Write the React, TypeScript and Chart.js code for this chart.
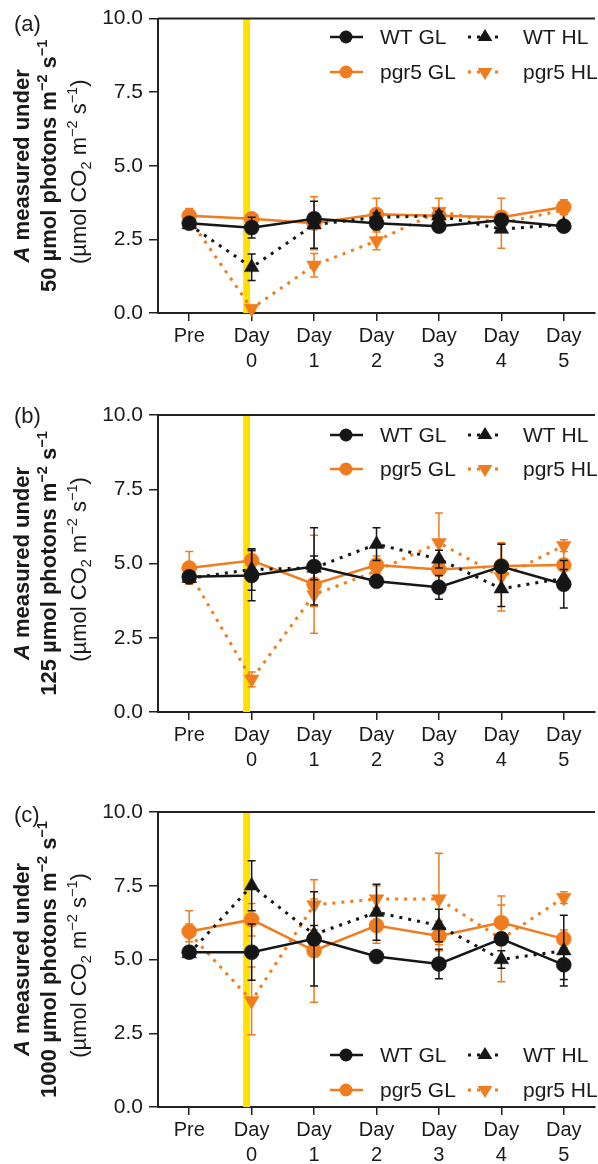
import React, { useEffect, useRef } from 'react';
import { Chart, registerables } from 'chart.js';

Chart.register(...registerables);

const FONT = "'Liberation Sans', Arial, Helvetica, sans-serif";
const BLACK = '#161616';
const ORANGE = '#ef7c1e';
const YELLOW = '#ffe000';
const AXIS = '#222222';

// ---------- data ----------
const categories = [['Pre'], ['Day', '0'], ['Day', '1'], ['Day', '2'], ['Day', '3'], ['Day', '4'], ['Day', '5']];
const yTickValues = [0, 2.5, 5, 7.5, 10];
const seriesNames = ['WT GL', 'WT HL', 'pgr5 GL', 'pgr5 HL'];
const panelLabels = ['(a)', '(b)', '(c)'];
const lightLevels = ['50', '125', '1000'];
const bandStart = 0.865; // high-light shift marker (category index units)
const bandEnd = 0.975;

// Panel (a): 50 µmol photons
const aWtGL = [3.05, 2.9, 3.2, 3.05, 2.95, 3.15, 2.95];
const aWtGLErr = [0.1, 0.35, 0.15, 0.1, 0.1, 0.1, 0.15];
const aWtHL = [3.0, 1.55, 3.0, 3.25, 3.3, 2.85, 3.0];
const aWtHLErr = [0.1, 0.45, 0.8, 0.15, 0.15, 0.1, 0.1];
const aPgGL = [3.3, 3.2, 3.05, 3.35, 3.3, 3.25, 3.6];
const aPgGLErr = [0.25, 0.1, 0.9, 0.55, 0.15, 0.1, 0.25];
const aPgHL = [3.2, 0.15, 1.62, 2.45, 3.45, 3.05, 3.5];
const aPgHLErr = [0.1, 0.1, 0.4, 0.3, 0.45, 0.85, 0.15];

// Panel (b): 125 µmol photons
const bWtGL = [4.55, 4.6, 4.9, 4.4, 4.2, 4.9, 4.3];
const bWtGLErr = [0.1, 0.85, 1.3, 0.15, 0.4, 0.75, 0.8];
const bWtHL = [4.5, 4.8, 4.85, 5.65, 5.15, 4.15, 4.5];
const bWtHLErr = [0.1, 0.7, 0.4, 0.55, 0.3, 0.6, 0.3];
const bPgGL = [4.85, 5.1, 4.3, 4.95, 4.8, 4.92, 4.95];
const bPgGLErr = [0.55, 0.3, 1.65, 0.3, 0.2, 0.75, 0.6];
const bPgHL = [4.7, 1.1, 3.95, 4.75, 5.7, 4.55, 5.6];
const bPgHLErr = [0.2, 0.25, 0.4, 0.3, 1.0, 1.15, 0.2];

// Panel (c): 1000 µmol photons
const cWtGL = [5.25, 5.25, 5.7, 5.1, 4.85, 5.7, 4.82];
const cWtGLErr = [0.1, 0.95, 1.6, 0.15, 0.5, 0.2, 0.5];
const cWtHL = [5.2, 7.5, 5.85, 6.6, 6.15, 5.0, 5.3];
const cWtHLErr = [0.1, 0.85, 0.3, 0.95, 0.55, 0.3, 1.2];
const cPgGL = [5.95, 6.35, 5.3, 6.15, 5.8, 6.25, 5.7];
const cPgGLErr = [0.7, 0.55, 1.75, 0.6, 0.5, 0.6, 0.3];
const cPgHL = [5.9, 3.6, 6.85, 7.05, 7.05, 5.7, 7.1];
const cPgHLErr = [0.3, 1.15, 0.85, 0.45, 1.55, 1.45, 0.2];

const panelData = [
  { values: [aWtGL, aWtHL, aPgGL, aPgHL], errors: [aWtGLErr, aWtHLErr, aPgGLErr, aPgHLErr] },
  { values: [bWtGL, bWtHL, bPgGL, bPgHL], errors: [bWtGLErr, bWtHLErr, bPgGLErr, bPgHLErr] },
  { values: [cWtGL, cWtHL, cPgGL, cPgHL], errors: [cWtGLErr, cWtHLErr, cPgGLErr, cPgHLErr] },
];

// ---------- layout (positions only) ----------
const CANVAS_W = 604;
const Y_AXIS_W = 158;
const panelLayout = [
  { top: 0, h: 400, areaTop: 17, areaBottom: 313, legendY: [37, 72], labelY: 25 },
  { top: 380, h: 410, areaTop: 35, areaBottom: 332, legendY: [55, 89], labelY: 37 },
  { top: 770, h: 394, areaTop: 42, areaBottom: 337, legendY: [285, 320], labelY: 46 },
];

const seriesStyle = [
  { color: BLACK, dash: [], style: 'circle', rot: 0, r: 7.5, width: 2.5 },
  { color: BLACK, dash: [3, 6], style: 'triangle', rot: 0, r: 8.5, width: 3 },
  { color: ORANGE, dash: [], style: 'circle', rot: 0, r: 7.5, width: 2.5 },
  { color: ORANGE, dash: [3, 6], style: 'triangle', rot: 180, r: 8.5, width: 3 },
];

type Seg = { t: string; b?: boolean; i?: boolean; sup?: boolean; sub?: boolean };

function segFont(s: Seg, size: number) {
  const sz = s.sup || s.sub ? size * 0.66 : size;
  return `${s.i ? 'italic ' : ''}${s.b ? 'bold ' : ''}${sz}px ${FONT}`;
}

function drawRich(ctx: CanvasRenderingContext2D, segs: Seg[], cx: number, cy: number, size: number) {
  ctx.save();
  ctx.translate(cx, cy);
  ctx.rotate(-Math.PI / 2);
  ctx.fillStyle = '#1a1a1a';
  ctx.textAlign = 'left';
  ctx.textBaseline = 'alphabetic';
  let total = 0;
  const widths = segs.map((s) => {
    ctx.font = segFont(s, size);
    const w = ctx.measureText(s.t).width;
    total += w;
    return w;
  });
  let x = -total / 2;
  segs.forEach((s, k) => {
    ctx.font = segFont(s, size);
    const dy = s.sup ? -size * 0.42 : s.sub ? size * 0.24 : 0;
    ctx.fillText(s.t, x, size * 0.36 + dy);
    x += widths[k];
  });
  ctx.restore();
}

function drawMarker(ctx: CanvasRenderingContext2D, style: string, x: number, y: number, r: number, rot: number, color: string) {
  ctx.save();
  ctx.fillStyle = color;
  ctx.beginPath();
  if (style === 'circle') {
    ctx.arc(x, y, r, 0, Math.PI * 2);
  } else {
    const base = rot === 180 ? Math.PI / 2 : -Math.PI / 2;
    for (let k = 0; k < 3; k++) {
      const a = base + (k * 2 * Math.PI) / 3;
      const px = x + Math.cos(a) * r;
      const py = y + Math.sin(a) * r * 0.95;
      if (k === 0) ctx.moveTo(px, py);
      else ctx.lineTo(px, py);
    }
    ctx.closePath();
  }
  ctx.fill();
  ctx.restore();
}

function Panel({ idx }: { idx: number }) {
  const ref = useRef<HTMLCanvasElement | null>(null);
  useEffect(() => {
    const L = panelLayout[idx];
    const D = panelData[idx];
    const canvas = ref.current!;
    const datasets = seriesNames.map((name, k) => {
      const st = seriesStyle[k];
      return {
        label: name,
        data: D.values[k],
        errors: D.errors[k],
        borderColor: st.color,
        backgroundColor: st.color,
        borderWidth: st.width,
        borderDash: st.dash,
        pointStyle: st.style,
        pointRotation: st.rot,
        pointRadius: st.r,
        pointBorderWidth: 0.5,
        pointBorderColor: st.color,
        pointBackgroundColor: st.color,
        tension: 0,
        clip: false,
      } as any;
    });

    const plugin = {
      id: 'panelDecor' + idx,
      beforeDatasetsDraw(chart: any) {
        const { ctx, chartArea, scales } = chart;
        const x1 = scales.x.getPixelForValue(bandStart);
        const x2 = scales.x.getPixelForValue(bandEnd);
        ctx.save();
        ctx.fillStyle = YELLOW;
        ctx.fillRect(x1, chartArea.top, x2 - x1, chartArea.bottom - chartArea.top);
        ctx.strokeStyle = AXIS;
        ctx.lineWidth = 2;
        ctx.beginPath();
        ctx.moveTo(chartArea.left, chartArea.top);
        ctx.lineTo(chartArea.right, chartArea.top);
        ctx.stroke();
        ctx.restore();
      },
      afterDatasetDraw(chart: any, args: any) {
        const { ctx, scales } = chart;
        const ds = chart.data.datasets[args.index];
        const meta = chart.getDatasetMeta(args.index);
        ctx.save();
        ctx.strokeStyle = ds.borderColor;
        ctx.lineWidth = 1.5;
        ctx.setLineDash([]);
        meta.data.forEach((pt: any, j: number) => {
          const v = ds.data[j];
          const e = ds.errors[j];
          const yt = scales.y.getPixelForValue(v + e);
          const yb = scales.y.getPixelForValue(v - e);
          const x = pt.x;
          ctx.beginPath();
          ctx.moveTo(x, yt);
          ctx.lineTo(x, yb);
          ctx.moveTo(x - 4, yt);
          ctx.lineTo(x + 4, yt);
          ctx.moveTo(x - 4, yb);
          ctx.lineTo(x + 4, yb);
          ctx.stroke();
        });
        ctx.restore();
      },
      afterDraw(chart: any) {
        const { ctx, chartArea } = chart;
        // panel label
        ctx.save();
        ctx.fillStyle = '#1a1a1a';
        ctx.font = `22px ${FONT}`;
        ctx.textAlign = 'left';
        ctx.textBaseline = 'middle';
        ctx.fillText(panelLabels[idx], 14, L.labelY);
        ctx.restore();
        // y title
        const cy = (chartArea.top + chartArea.bottom) / 2;
        drawRich(ctx, [{ t: 'A', b: true, i: true }, { t: ' measured under', b: true }], 21, cy, 22);
        drawRich(
          ctx,
          [
            { t: `${lightLevels[idx]} µmol photons m`, b: true },
            { t: '−2', b: true, sup: true },
            { t: ' s', b: true },
            { t: '−1', b: true, sup: true },
          ],
          48,
          cy,
          22
        );
        drawRich(
          ctx,
          [
            { t: '(µmol CO' },
            { t: '2', sub: true },
            { t: ' m' },
            { t: '−2', sup: true },
            { t: ' s' },
            { t: '−1', sup: true },
            { t: ')' },
          ],
          78,
          cy + 6,
          22
        );
        // legend
        const cols = [
          { x1: 330, x2: 363, mx: 346, tx: 380 },
          { x1: 468, x2: 503, mx: 485, tx: 523 },
        ];
        seriesNames.forEach((name, k) => {
          const st = seriesStyle[k];
          const col = cols[k % 2];
          const y = L.legendY[Math.floor(k / 2)];
          ctx.save();
          ctx.strokeStyle = st.color;
          ctx.lineWidth = st.width;
          ctx.setLineDash(st.dash);
          ctx.beginPath();
          ctx.moveTo(col.x1, y);
          ctx.lineTo(col.x2, y);
          ctx.stroke();
          ctx.restore();
          drawMarker(ctx, st.style, col.mx, y, st.style === 'circle' ? 6.5 : 8.5, st.rot, st.color);
          ctx.save();
          ctx.fillStyle = '#1a1a1a';
          ctx.font = `21px ${FONT}`;
          ctx.textAlign = 'left';
          ctx.textBaseline = 'middle';
          ctx.fillText(name, col.tx, y + 1);
          ctx.restore();
        });
      },
    };

    const chart = new Chart(canvas, {
      type: 'line',
      data: { labels: categories as any, datasets },
      options: {
        animation: false,
        responsive: false,
        devicePixelRatio: 1,
        events: [],
        layout: { padding: { top: L.areaTop, left: 0, right: 0, bottom: 0 } },
        plugins: { legend: { display: false }, tooltip: { enabled: false } },
        scales: {
          x: {
            type: 'category',
            offset: true,
            grid: {
              display: true,
              drawOnChartArea: false,
              drawTicks: true,
              tickLength: 8,
              lineWidth: 1.5,
              color: AXIS,
              offset: false,
            },
            border: { display: true, color: AXIS, width: 2 },
            ticks: {
              color: '#1a1a1a',
              font: { family: FONT, size: 20, lineHeight: 1.25 },
              padding: 3,
              maxRotation: 0,
              autoSkip: false,
            },
            afterFit: (s: any) => {
              s.height = L.h - L.areaBottom;
            },
          },
          y: {
            type: 'linear',
            min: 0,
            max: 10,
            afterBuildTicks: (s: any) => {
              s.ticks = yTickValues.map((v) => ({ value: v }));
            },
            grid: {
              display: true,
              drawOnChartArea: false,
              drawTicks: true,
              tickLength: 9,
              lineWidth: 1.5,
              color: AXIS,
            },
            border: { display: true, color: AXIS, width: 2 },
            ticks: {
              color: '#1a1a1a',
              font: { family: FONT, size: 21 },
              padding: 6,
              callback: (v: any) => Number(v).toFixed(1),
            },
            afterFit: (s: any) => {
              s.width = Y_AXIS_W;
            },
          },
        },
      },
      plugins: [plugin],
    } as any);
    return () => chart.destroy();
  }, [idx]);

  const L = panelLayout[idx];
  return (
    <canvas
      ref={ref}
      width={CANVAS_W}
      height={L.h}
      style={{ position: 'absolute', left: 0, top: L.top, width: CANVAS_W, height: L.h }}
    />
  );
}

export default function App() {
  return (
    <div
      style={{
        position: 'absolute',
        left: 0,
        top: 0,
        width: 598,
        height: 1164,
        overflow: 'hidden',
        background: '#ffffff',
      }}
    >
      <Panel idx={0} />
      <Panel idx={1} />
      <Panel idx={2} />
    </div>
  );
}
